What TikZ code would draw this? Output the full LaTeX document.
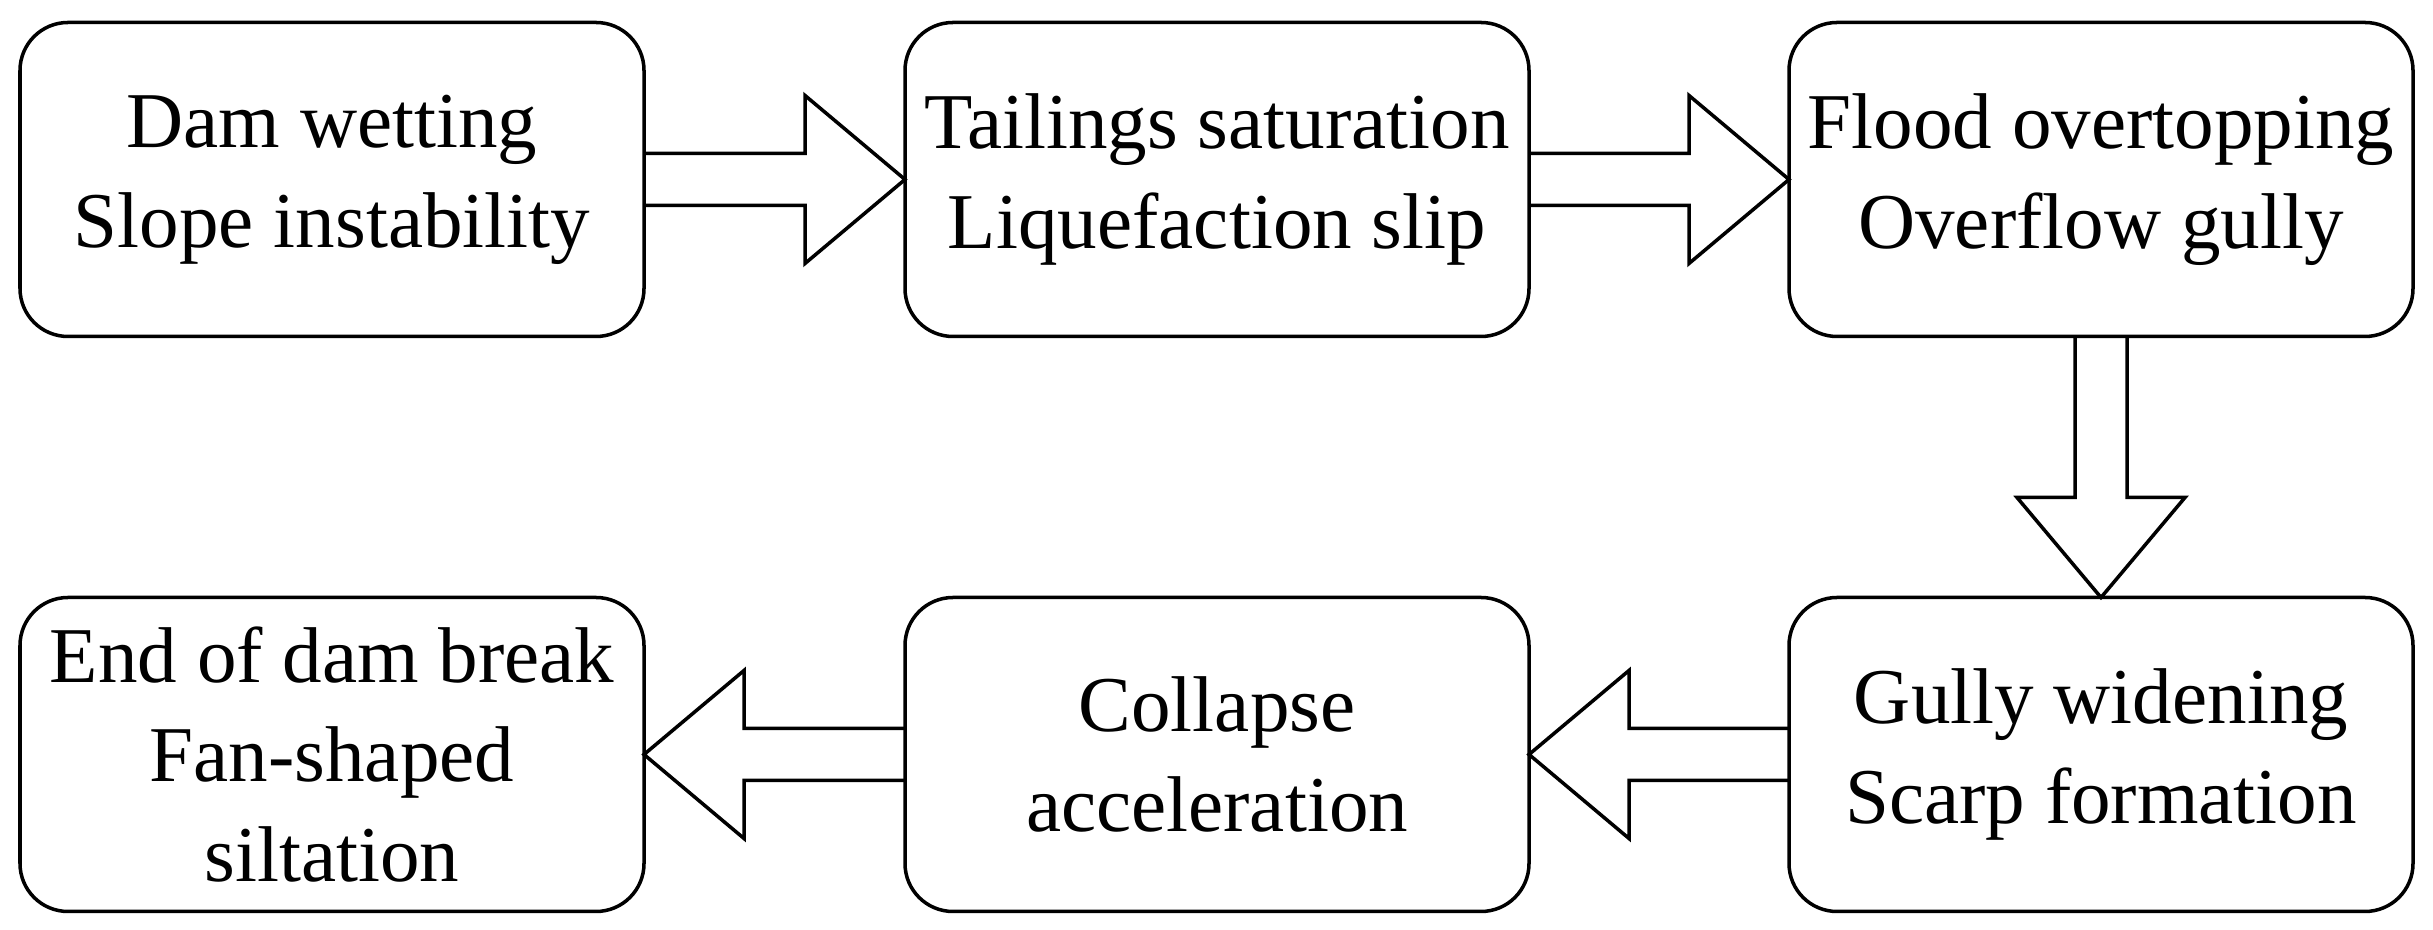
\documentclass[tikz,border=0pt]{standalone}
\usepackage{fontspec}
\setmainfont{Liberation Serif}
\usetikzlibrary{calc}
\tikzset{caja/.style={draw, line width=1pt, rounded corners=0.48cm,
    minimum width=6.24cm, minimum height=3.14cm, inner sep=0pt, outer sep=0pt,
    align=center, font=\fontsize{22.5}{28.4}\selectfont},
  bloque/.style={line width=1pt, line join=miter}}

\begin{document}
\begin{tikzpicture} % medidas en cm
\newcommand{\ejeh}{0.26}
\newcommand{\puntah}{0.84}
\newcommand{\flecha}[3]{\draw[bloque] ($(#1)+(0,\ejeh)$) -- ($(#2)+(#3,\ejeh)$) -- ($(#2)+(#3,\puntah)$) -- (#2) -- ($(#2)+(#3,-\puntah)$) -- ($(#2)+(#3,-\ejeh)$) -- ($(#1)+(0,-\ejeh)$);}
\useasboundingbox (0,0) rectangle (24.33,9.30);

\node[caja] (moja) at (3.32,7.505) {Dam wetting\\Slope instability};	% arriba
\node[caja] (satura) at (12.17,7.505) {Tailings saturation\\Liquefaction slip};
\node[caja] (desborde) at (21.01,7.505) {Flood overtopping\\Overflow gully};
\node[caja] (ensancha) at (21.01,1.755) {Gully widening\\Scarp formation};	% abajo
\node[caja] (colapso) at (12.17,1.755) {Collapse\\acceleration};
\node[caja] (fin) at (3.32,1.755) {End of dam break\\Fan-shaped\\siltation};

\flecha{moja.east}{satura.west}{-1}
\flecha{satura.east}{desborde.west}{-1}
\draw[bloque] ($(desborde.south)+(-\ejeh,0)$) -- ($(ensancha.north)+(-\ejeh,1)$) -- ($(ensancha.north)+(-\puntah,1)$) -- (ensancha.north) -- ($(ensancha.north)+(\puntah,1)$) -- ($(ensancha.north)+(\ejeh,1)$) -- ($(desborde.south)+(\ejeh,0)$);
\flecha{ensancha.west}{colapso.east}{1}
\flecha{colapso.west}{fin.east}{1}
\end{tikzpicture}
\end{document}
